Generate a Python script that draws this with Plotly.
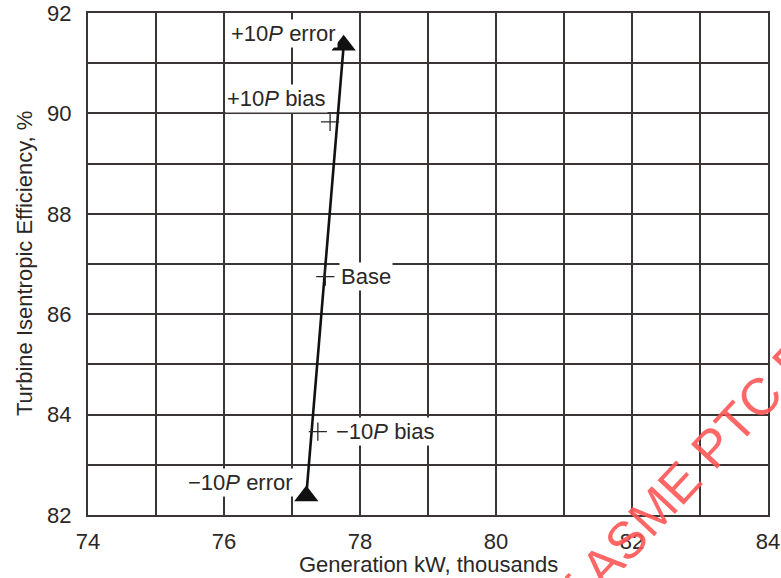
import plotly.graph_objects as go

# Turbine test results: generation vs. isentropic efficiency for each pressure case
cases = ["-10P error", "-10P bias", "Base", "+10P bias", "+10P error"]
case_labels = ["\u221210<i>P</i> error", "\u221210<i>P</i> bias", "Base",
               "+10<i>P</i> bias", "+10<i>P</i> error"]
generation_kw = [77.21, 77.38, 77.49, 77.56, 77.76]   # thousands of kW
efficiency = [82.38, 83.66, 86.75, 89.83, 91.36]       # percent

x_ticks = [74, 76, 78, 80, 82, 84]
y_ticks = [82, 84, 86, 88, 90, 92]

FONT = "Liberation Sans, Arial, Helvetica, sans-serif"
INK = "#2b2727"
GRID = "#3a3535"

err_idx = [0, 4]
bias_idx = [1, 2, 3]

fig = go.Figure()

# Line between the two error cases, with filled triangles at both ends
fig.add_trace(go.Scatter(
    x=[generation_kw[i] for i in err_idx],
    y=[efficiency[i] for i in err_idx],
    mode="lines+markers",
    line=dict(color="#111111", width=2.6),
    marker=dict(symbol="triangle-up", size=21, color="#111111"),
    showlegend=False, hoverinfo="skip", cliponaxis=False,
))

# Bias and base cases as plus markers
fig.add_trace(go.Scatter(
    x=[generation_kw[i] for i in bias_idx],
    y=[efficiency[i] for i in bias_idx],
    mode="markers",
    marker=dict(symbol="cross-thin", size=13, line=dict(color=INK, width=1.3)),
    showlegend=False, hoverinfo="skip",
))

# Case labels (white boxes break the grid behind the text)
label_style = {
    "+10P error": dict(xanchor="right", xshift=-6, yshift=12),
    "+10P bias": dict(xanchor="right", xshift=-2, yshift=23),
    "Base": dict(xanchor="left", xshift=14, yshift=0),
    "-10P bias": dict(xanchor="left", xshift=16, yshift=0),
    "-10P error": dict(xanchor="right", xshift=-11, yshift=13),
}
annotations = []
for key, lab, xv, yv in zip(cases, case_labels, generation_kw, efficiency):
    st = label_style[key]
    annotations.append(dict(
        x=xv, y=yv, xref="x", yref="y", text=lab, showarrow=False,
        xanchor=st["xanchor"], yanchor="middle",
        xshift=st["xshift"], yshift=st["yshift"],
        font=dict(family=FONT, size=22, color=INK),
        bgcolor="white", borderpad=1,
    ))

# Axis titles
annotations.append(dict(
    x=0.5, y=0.0, xref="paper", yref="paper", yshift=-49,
    text="Generation kW, thousands", showarrow=False,
    xanchor="center", yanchor="middle",
    font=dict(family=FONT, size=22, color=INK),
))
annotations.append(dict(
    x=0, y=0.5, xref="paper", yref="paper", xshift=-64,
    text="Turbine Isentropic Efficiency, %", showarrow=False, textangle=-90,
    xanchor="center", yanchor="middle",
    font=dict(family=FONT, size=22, color=INK),
))

# Red document stamp across the lower right corner
annotations.append(dict(
    x=0.868, y=0.062, xref="paper", yref="paper",
    text="of ASME PTC F", showarrow=False, textangle=-47,
    xanchor="center", yanchor="middle",
    font=dict(family=FONT, size=52, color="rgba(255,85,85,0.9)"),
))

fig.update_layout(
    width=781, height=578,
    margin=dict(l=88, r=13, t=13, b=63),
    paper_bgcolor="white", plot_bgcolor="white",
    annotations=annotations,
    font=dict(family=FONT, color=INK),
)

axis_common = dict(
    showline=True, mirror=True, linecolor=GRID, linewidth=2,
    showgrid=True, gridcolor=GRID, gridwidth=2,
    ticks="", zeroline=False, automargin=False,
    tickfont=dict(family=FONT, size=22, color=INK),
    minor=dict(dtick=1, showgrid=True, gridcolor=GRID, gridwidth=2),
)
fig.update_xaxes(range=[74, 84], tickvals=x_ticks, ticklabelstandoff=6, **axis_common)
fig.update_yaxes(range=[82, 92], tickvals=y_ticks, ticklabelstandoff=10, **axis_common)

fig.write_html("out.html")
